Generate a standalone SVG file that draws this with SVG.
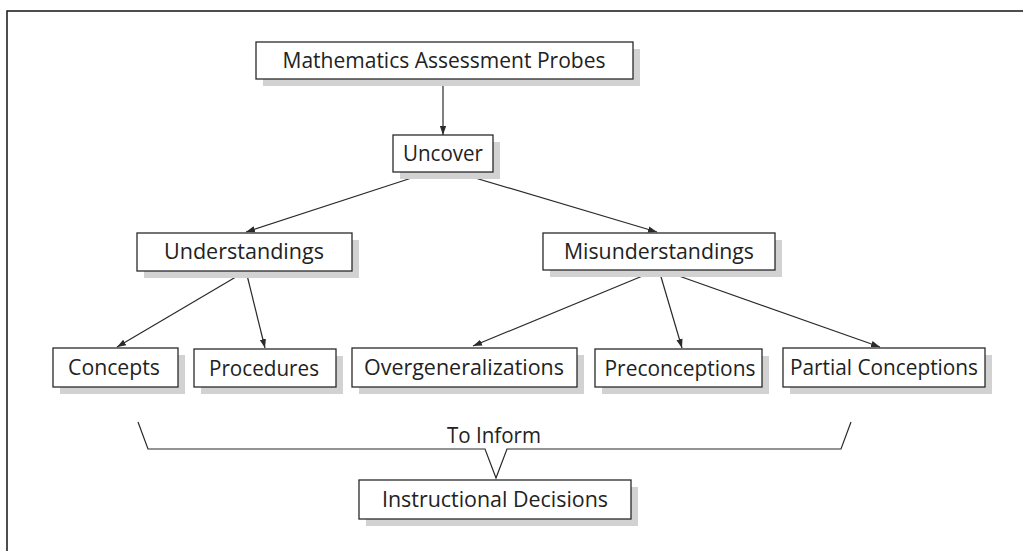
<svg xmlns="http://www.w3.org/2000/svg" width="1023" height="551" viewBox="0 0 1023 551">
<style>
.sh{fill:#d2d2d2;stroke:none}
.bx{fill:#fff;stroke:#2a2a2a;stroke-width:1.3}
.t{font-family:"Open Sans","Noto Sans",sans-serif;font-size:21px;fill:#222;text-anchor:middle}
.c{stroke:#2a2a2a;stroke-width:1.2;fill:none}
</style>
<defs>
<marker id="ah" viewBox="0 0 10 10" refX="10" refY="5" markerWidth="9" markerHeight="9" markerUnits="userSpaceOnUse" orient="auto">
<path d="M0,1.5 L10,5 L0,8.5 Z" fill="#2a2a2a"/>
</marker>
</defs>
<rect x="7" y="11" width="1040" height="560" fill="#fff" stroke="#222" stroke-width="1.6"/>
<g id="connectors">
<line class="c" x1="443" y1="79" x2="443" y2="135" marker-end="url(#ah)"/>
<line class="c" x1="430" y1="172" x2="246" y2="232" marker-end="url(#ah)"/>
<line class="c" x1="455" y1="172" x2="657" y2="232" marker-end="url(#ah)"/>
<line class="c" x1="246" y1="271" x2="117" y2="347" marker-end="url(#ah)"/>
<line class="c" x1="246" y1="271" x2="265" y2="348" marker-end="url(#ah)"/>
<line class="c" x1="657" y1="270" x2="473" y2="346" marker-end="url(#ah)"/>
<line class="c" x1="659" y1="270" x2="682" y2="348" marker-end="url(#ah)"/>
<line class="c" x1="662" y1="270" x2="880" y2="347" marker-end="url(#ah)"/>
<polyline class="c" points="138,422 148,449 485,449 496,478 507,449 841,449 851,422"/>
</g>
<g id="n-probes"><rect class="sh" x="263" y="49" width="377" height="37"/><rect class="bx" x="256" y="42" width="377" height="37"/><text class="t" x="444" y="68" textLength="323" lengthAdjust="spacingAndGlyphs">Mathematics Assessment Probes</text></g>
<g id="n-uncover"><rect class="sh" x="400" y="142" width="100" height="37"/><rect class="bx" x="393" y="135" width="100" height="37"/><text class="t" x="443" y="161" textLength="80" lengthAdjust="spacingAndGlyphs">Uncover</text></g>
<g id="n-under"><rect class="sh" x="144" y="240" width="215" height="38"/><rect class="bx" x="137" y="233" width="215" height="38"/><text class="t" x="244" y="259" textLength="160" lengthAdjust="spacingAndGlyphs">Understandings</text></g>
<g id="n-misunder"><rect class="sh" x="550" y="240" width="232" height="37"/><rect class="bx" x="543" y="233" width="232" height="37"/><text class="t" x="659" y="259" textLength="190" lengthAdjust="spacingAndGlyphs">Misunderstandings</text></g>
<g id="n-concepts"><rect class="sh" x="60" y="355" width="125" height="39"/><rect class="bx" x="53" y="348" width="125" height="39"/><text class="t" x="114" y="375" textLength="92" lengthAdjust="spacingAndGlyphs">Concepts</text></g>
<g id="n-procedures"><rect class="sh" x="201" y="356" width="142" height="38"/><rect class="bx" x="194" y="349" width="142" height="38"/><text class="t" x="264" y="376" textLength="110" lengthAdjust="spacingAndGlyphs">Procedures</text></g>
<g id="n-overgen"><rect class="sh" x="359" y="355" width="225" height="39"/><rect class="bx" x="352" y="348" width="225" height="39"/><text class="t" x="464" y="375" textLength="200" lengthAdjust="spacingAndGlyphs">Overgeneralizations</text></g>
<g id="n-precon"><rect class="sh" x="602" y="356" width="167" height="38"/><rect class="bx" x="595" y="349" width="167" height="38"/><text class="t" x="680" y="376" textLength="151" lengthAdjust="spacingAndGlyphs">Preconceptions</text></g>
<g id="n-partial"><rect class="sh" x="790" y="355" width="202" height="39"/><rect class="bx" x="783" y="348" width="202" height="39"/><text class="t" x="884" y="375" textLength="188" lengthAdjust="spacingAndGlyphs">Partial Conceptions</text></g>
<g id="n-inform"><text class="t" x="494" y="443" textLength="94" lengthAdjust="spacingAndGlyphs">To Inform</text></g>
<g id="n-decisions"><rect class="sh" x="366" y="487" width="272" height="39"/><rect class="bx" x="359" y="480" width="272" height="39"/><text class="t" x="495" y="507" textLength="226" lengthAdjust="spacingAndGlyphs">Instructional Decisions</text></g>
</svg>
